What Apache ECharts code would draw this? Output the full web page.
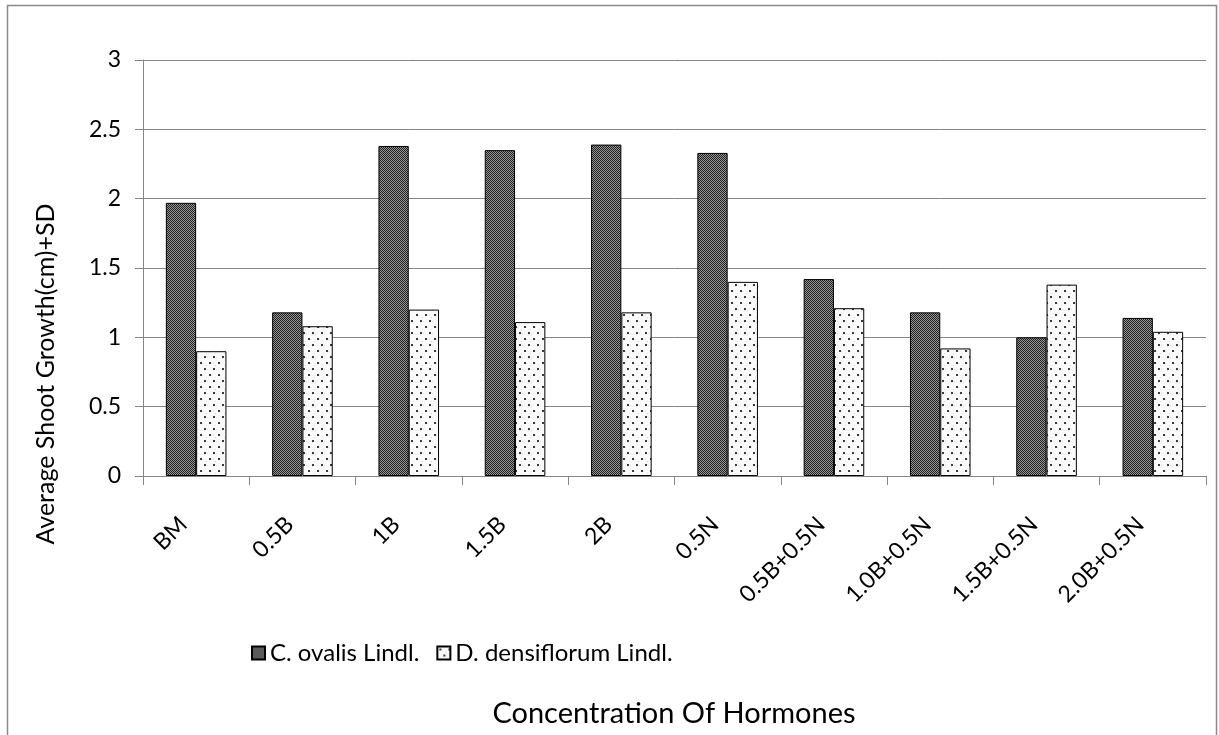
<!DOCTYPE html>
<html>
<head>
<meta charset="utf-8">
<script src="https://cdn.jsdelivr.net/npm/echarts@6/dist/echarts.min.js"></script>
<style>
html,body{margin:0;padding:0;background:#fff;}
#chart{width:1219px;height:735px;}
</style>
</head>
<body>
<div id="chart"></div>
<script>
const categories = ['BM','0.5B','1B','1.5B','2B','0.5N','0.5B+0.5N','1.0B+0.5N','1.5B+0.5N','2.0B+0.5N'];
const seriesNames = ['C. ovalis Lindl.','D. densiflorum Lindl.'];
const ovalis = [1.97,1.18,2.38,2.35,2.39,2.33,1.42,1.18,1.00,1.14];
const densiflorum = [0.90,1.08,1.20,1.11,1.18,1.40,1.21,0.92,1.38,1.04];
const yTicks = [0,0.5,1,1.5,2,2.5,3];
const xTitle = 'Concentration Of Hormones';
const yTitle = 'Average Shoot Growth(cm)+SD';

function darkPattern(){
  const c = document.createElement('canvas'); c.width = 2; c.height = 2;
  const g = c.getContext('2d');
  g.fillStyle = '#959595'; g.fillRect(0,0,2,2);
  g.fillStyle = '#222222'; g.fillRect(0,0,1,1); g.fillRect(1,1,1,1);
  return c;
}
function dotPattern(){
  const c = document.createElement('canvas'); c.width = 9; c.height = 12;
  const g = c.getContext('2d');
  g.fillStyle = '#fafafa'; g.fillRect(0,0,9,12);
  g.fillStyle = '#e0e0e0'; g.fillRect(4,3,1,1); g.fillRect(0,9,1,1); g.fillRect(6,10,1,1); g.fillRect(8,5,1,1);
  g.fillStyle = '#3a3a3a'; g.fillRect(2,2,2,2); g.fillRect(6,8,2,2);
  return c;
}

const font = 'Lato, "Open Sans", sans-serif';
const chart = echarts.init(document.getElementById('chart'), null, {renderer:'canvas'});
chart.setOption({
  animation:false,
  backgroundColor:'#fff',
  textStyle:{fontFamily:font, color:'#000'},
  graphic:[
    {type:'rect', shape:{x:7.5,y:5.5,width:1209,height:740}, style:{fill:null, stroke:'#8a8a8a', lineWidth:1.5}, silent:true},
    {type:'text', x:46, y:374, rotation:Math.PI/2,
      style:{text:yTitle, fontFamily:font, fontSize:25, fill:'#000', textAlign:'center', textVerticalAlign:'middle'}, silent:true},
    {type:'text', x:674, y:714,
      style:{text:xTitle, fontFamily:font, fontSize:29, fill:'#000', textAlign:'center', textVerticalAlign:'middle'}, silent:true}
  ],
  grid:{left:143, right:13, top:60, bottom:259, containLabel:false, outerBoundsMode:'none'},
  legend:{
    left:246, top:636, icon:'rect', itemWidth:13, itemHeight:13, itemGap:17,
    textStyle:{fontFamily:font, fontSize:24, color:'#000'},
    data:seriesNames
  },
  xAxis:{
    type:'category', data:categories,
    axisLine:{lineStyle:{color:'#868686', width:1}},
    axisTick:{show:true, length:9, lineStyle:{color:'#868686'}},
    axisLabel:{rotate:45, margin:32, fontSize:23, color:'#000', fontFamily:font, padding:[0,18,0,0]}
  },
  yAxis:{
    type:'value', min:0, max:3, interval:0.5,
    axisLine:{show:true, lineStyle:{color:'#868686', width:1}},
    axisTick:{show:true, length:8, lineStyle:{color:'#868686'}},
    splitLine:{lineStyle:{color:'#868686', width:1}},
    axisLabel:{margin:22, fontSize:23, color:'#000', fontFamily:font,
      formatter:(v)=>{const t=yTicks.find(x=>Math.abs(x-v)<1e-9); return String(t!==undefined?t:v);}}
  },
  series:[
    {name:seriesNames[0], type:'bar', data:ovalis, barGap:'0%', barCategoryGap:'43%',
      itemStyle:{color:{image:darkPattern(), repeat:'repeat'}, borderColor:'#000', borderWidth:1}},
    {name:seriesNames[1], type:'bar', data:densiflorum, barGap:'0%', barCategoryGap:'43%',
      itemStyle:{color:{image:dotPattern(), repeat:'repeat'}, borderColor:'#000', borderWidth:1}}
  ]
});
</script>
</body>
</html>
